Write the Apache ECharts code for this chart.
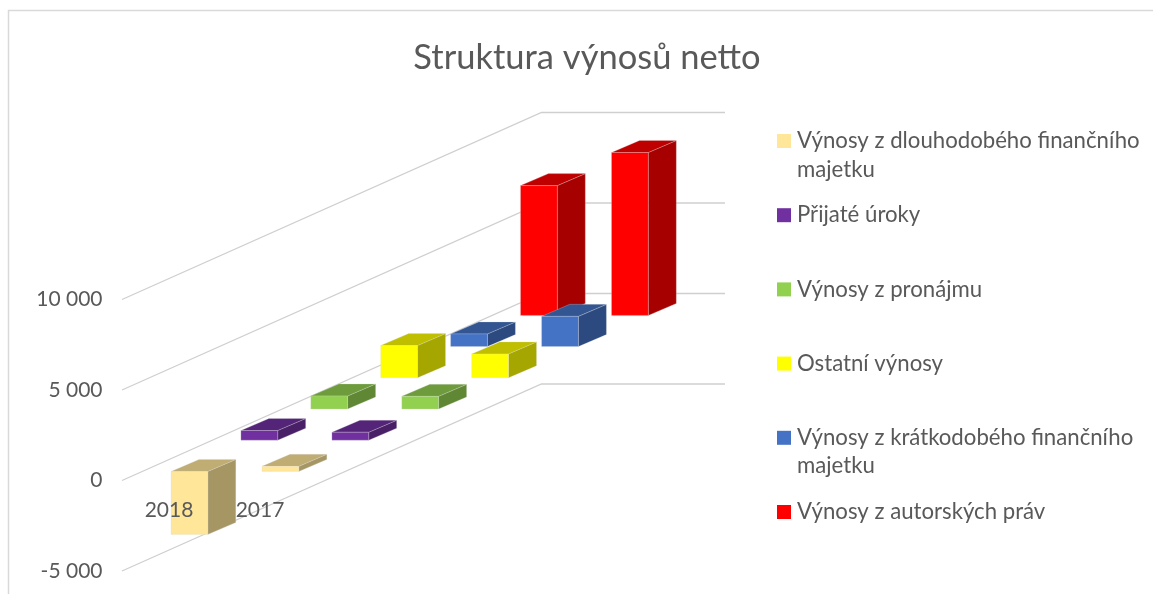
<!DOCTYPE html>
<html><head><meta charset="utf-8">
<style>html,body{margin:0;padding:0;background:#fff}#c{width:1153px;height:594px}</style>
<script src="https://cdn.jsdelivr.net/npm/echarts@6/dist/echarts.min.js"></script>
</head><body><div id="c"></div>
<script>
const years = ['2018', '2017'];
const seriesNames = [
  'Výnosy z dlouhodobého finančního\nmajetku',
  'Přijaté úroky',
  'Výnosy z pronájmu',
  'Ostatní výnosy',
  'Výnosy z krátkodobého finančního\nmajetku',
  'Výnosy z autorských práv'
];
const dlouhodobe = [-3480, 280];
const uroky = [535, 440];
const pronajem = [720, 700];
const ostatni = [1780, 1320];
const kratkodobe = [700, 1670];
const autorska = [7170, 9000];
const yTicks = [-5000, 0, 5000, 10000];
const palette = ['#FFE699', '#7030A0', '#92D050', '#FFFF00', '#4472C4', '#FF0000'];
const values = [dlouhodobe, uroky, pronajem, ostatni, kratkodobe, autorska];

// oblique projection, in pixels
const proj = {
  stepX: 69.9, stepY: -31.2,       // one series further back
  barW: 36.8, barOffsetX: 2, barOffsetY: -9.1,
  sideX: 28, sideY: -12,           // depth of one bar
  wallX: 419.5, wallY: -187, wallLen: 183.5
};
function shade(hex, k) {
  const n = parseInt(hex.slice(1), 16);
  const c = s => Math.round(((n >> s) & 255) * k);
  return `rgb(${c(16)},${c(8)},${c(0)})`;
}
function barRender(d, color) {
  return function (params, api) {
    const base = api.coord([api.value(0), 0]);
    const tip = api.coord([api.value(0), api.value(1)]);
    const x0 = base[0] + proj.barOffsetX + d * proj.stepX;
    const x1 = x0 + proj.barW;
    const shift = proj.barOffsetY + d * proj.stepY;
    const yt = Math.min(base[1], tip[1]) + shift;
    const yb = Math.max(base[1], tip[1]) + shift;
    const sx = proj.sideX, sy = proj.sideY;
    const edge = { stroke: 'rgba(217,217,217,0.45)', lineWidth: 0.6 };
    return { type: 'group', children: [
      { type: 'polygon', shape: { points: [[x1, yt], [x1 + sx, yt + sy], [x1 + sx, yb + sy], [x1, yb]] },
        style: Object.assign({ fill: shade(color, 0.65) }, edge) },
      { type: 'polygon', shape: { points: [[x0, yt], [x0 + sx, yt + sy], [x1 + sx, yt + sy], [x1, yt]] },
        style: Object.assign({ fill: shade(color, 0.75) }, edge) },
      { type: 'rect', shape: { x: x0, y: yt, width: proj.barW, height: yb - yt },
        style: Object.assign({ fill: color }, edge) }
    ] };
  };
}
function wallRender(params, api) {
  const p = api.coord([0, api.value(0)]);
  const x0 = p[0] - api.size([1, 0])[0] / 2 - 1.5, y0 = p[1];
  const x1 = x0 + proj.wallX, y1 = y0 + proj.wallY;
  return { type: 'polyline', shape: { points: [[x0, y0], [x1, y1], [x1 + proj.wallLen, y1]] },
    style: { fill: 'none', stroke: '#cfcfcf', lineWidth: 1.3 } };
}
const series = [{
  type: 'custom', name: 'grid', silent: true, z: 1, animation: false, clip: false,
  encode: { y: 0 }, data: yTicks.map(v => [v]), renderItem: wallRender
}].concat(seriesNames.map((name, d) => ({
  type: 'custom', name, z: 10 - d, animation: false, clip: false,
  itemStyle: { color: palette[d] },
  encode: { x: 0, y: 1 },
  data: years.map((y, i) => [y, values[d][i]]),
  renderItem: barRender(d, palette[d])
})));
const textColor = '#595959';
const extraLines = [];
seriesNames.forEach((n, i) => { if (n.includes('\n')) extraLines.push({ text: n.split('\n')[1], row: i }); });
const legendTop = 130, legendStep = 74;
const chart = echarts.init(document.getElementById('c'), null, { renderer: 'canvas' });
chart.setOption({
  animation: false,
  backgroundColor: '#fff',
  title: { text: 'Struktura výnosů netto', left: 582, top: 35, textAlign: 'center',
    textStyle: { color: textColor, fontFamily: 'Lato', fontSize: 34.5, fontWeight: 'normal' } },
  grid: { left: 123.5, width: 182, top: 299.5, bottom: 23, outerBoundsMode: 'none' },
  xAxis: { type: 'category', data: years, z: 20, offset: -91,
    axisLine: { show: false, onZero: false }, axisTick: { show: false }, splitLine: { show: false },
    axisLabel: { color: textColor, fontFamily: 'Lato', fontSize: 21, margin: 20 } },
  yAxis: { type: 'value', min: -5000, max: 10000, interval: 5000,
    axisLine: { show: false }, axisTick: { show: false }, splitLine: { show: false },
    axisLabel: { color: textColor, fontFamily: 'Lato', fontSize: 21, margin: 21,
      formatter: v => String(v).replace(/\B(?=(\d{3})+$)/g, ' ') } },
  legend: { orient: 'vertical', left: 777, top: legendTop, padding: 0, selectedMode: false,
    data: seriesNames, icon: 'rect', itemWidth: 14, itemHeight: 14, itemGap: 52.2,
    formatter: n => n.split('\n')[0],
    textStyle: { color: textColor, fontFamily: 'Lato', fontSize: 22.2, padding: [0, 0, 4, 1] } },
  graphic: [
    { type: 'line', shape: { x1: 8, y1: 10.5, x2: 1153, y2: 10.5 }, style: { stroke: '#d9d9d9', lineWidth: 1.5 }, silent: true },
    { type: 'line', shape: { x1: 8.5, y1: 10, x2: 8.5, y2: 594 }, style: { stroke: '#d9d9d9', lineWidth: 1.5 }, silent: true }
  ].concat(extraLines.map(l => ({
    type: 'text', silent: true, left: 797, top: 159 + l.row * legendStep,
    style: { text: l.text, fill: textColor, font: '22.2px Lato' }
  }))),
  series
});
</script></body></html>
